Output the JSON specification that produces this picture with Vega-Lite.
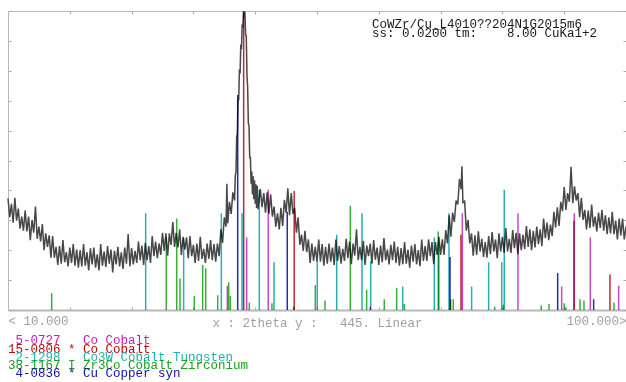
{
  "$schema": "https://vega.github.io/schema/vega-lite/v6.json",
  "width": 618,
  "height": 299,
  "autosize": {"type": "none"},
  "padding": {"left": 8, "top": 11, "right": 0, "bottom": 72},
  "background": "white",
  "config": {"view": {"stroke": null}, "axis": {"grid": false}},
  "datasets": {
    "pattern": [
      {"t":10,"i":166},{"t":10.25,"i":138},{"t":10.5,"i":158},{"t":10.75,"i":130},{"t":11,"i":167},{"t":11.25,"i":133},{"t":11.5,"i":151},{"t":11.75,"i":121},{"t":12,"i":139},{"t":12.25,"i":118},{"t":12.5,"i":148},{"t":12.75,"i":117},{"t":13,"i":139},{"t":13.25,"i":104},{"t":13.5,"i":134},{"t":13.75,"i":115},{"t":14,"i":154},{"t":14.25,"i":106},{"t":14.5,"i":124},{"t":14.75,"i":102},{"t":15,"i":128},{"t":15.25,"i":89},{"t":15.5,"i":114},{"t":15.75,"i":94},{"t":16,"i":111},{"t":16.25,"i":78},{"t":16.5,"i":110},{"t":16.75,"i":78},{"t":17,"i":94},{"t":17.25,"i":67},{"t":17.5,"i":95},{"t":17.75,"i":69},{"t":18,"i":104},{"t":18.25,"i":71},{"t":18.5,"i":86},{"t":18.75,"i":65},{"t":19,"i":93},{"t":19.25,"i":70},{"t":19.5,"i":98},{"t":19.75,"i":66},
      {"t":20,"i":90},{"t":20.25,"i":63},{"t":20.5,"i":89},{"t":20.75,"i":65},{"t":21,"i":98},{"t":21.25,"i":66},{"t":21.5,"i":86},{"t":21.75,"i":59},{"t":22,"i":92},{"t":22.25,"i":68},{"t":22.5,"i":93},{"t":22.75,"i":63},{"t":23,"i":83},{"t":23.25,"i":59},{"t":23.5,"i":98},{"t":23.75,"i":66},{"t":24,"i":87},{"t":24.25,"i":64},{"t":24.5,"i":95},{"t":24.75,"i":69},{"t":25,"i":90},{"t":25.25,"i":56},{"t":25.5,"i":88},{"t":25.75,"i":68},{"t":26,"i":94},{"t":26.25,"i":65},{"t":26.5,"i":86},{"t":26.75,"i":61},{"t":27,"i":93},{"t":27.25,"i":69},{"t":27.5,"i":113},{"t":27.75,"i":65},{"t":28,"i":92},{"t":28.25,"i":68},{"t":28.5,"i":88},{"t":28.75,"i":70},{"t":29,"i":102},{"t":29.25,"i":74},{"t":29.5,"i":96},{"t":29.75,"i":67},
      {"t":30,"i":100},{"t":30.25,"i":74},{"t":30.5,"i":95},{"t":30.75,"i":70},{"t":31,"i":110},{"t":31.25,"i":80},{"t":31.5,"i":102},{"t":31.75,"i":77},{"t":32,"i":99},{"t":32.25,"i":82},{"t":32.5,"i":115},{"t":32.75,"i":88},{"t":33,"i":114},{"t":33.25,"i":81},{"t":33.5,"i":114},{"t":33.75,"i":97},{"t":34,"i":131},{"t":34.25,"i":94},{"t":34.5,"i":115},{"t":34.75,"i":93},{"t":35,"i":120},{"t":35.25,"i":82},{"t":35.5,"i":109},{"t":35.75,"i":90},{"t":36,"i":108},{"t":36.25,"i":77},{"t":36.5,"i":110},{"t":36.75,"i":80},{"t":37,"i":97},{"t":37.25,"i":70},{"t":37.5,"i":99},{"t":37.75,"i":73},{"t":38,"i":109},{"t":38.25,"i":76},{"t":38.5,"i":91},{"t":38.75,"i":70},{"t":39,"i":99},{"t":39.25,"i":76},{"t":39.5,"i":104},{"t":39.75,"i":74},
      {"t":40,"i":98},{"t":40.25,"i":72},{"t":40.5,"i":99},{"t":40.75,"i":80},{"t":41,"i":120},{"t":41.25,"i":100},{"t":41.5,"i":138},{"t":41.75,"i":124},{"t":41.875,"i":188},{"t":42,"i":129},{"t":42.25,"i":161},{"t":42.5,"i":143},{"t":42.75,"i":175},{"t":43,"i":163},
      {"t":43.1,"i":200},{"t":43.2,"i":205},{"t":43.3,"i":258},{"t":43.4,"i":262},{"t":43.5,"i":312},{"t":43.6,"i":313},{"t":43.7,"i":358},{"t":43.8,"i":352},{"t":43.9,"i":395},{"t":44,"i":388},{"t":44.1,"i":425},{"t":44.2,"i":420},{"t":44.3,"i":444},{"t":44.4,"i":434},{"t":44.5,"i":444},{"t":44.6,"i":410},{"t":44.7,"i":408},{"t":44.8,"i":350},{"t":44.9,"i":332},{"t":45,"i":278},{"t":45.1,"i":274},{"t":45.2,"i":226},{"t":45.3,"i":228},{"t":45.4,"i":188},{"t":45.5,"i":206},{"t":45.6,"i":172},{"t":45.7,"i":199},{"t":45.8,"i":165},{"t":45.9,"i":193},{"t":46,"i":158},{"t":46.1,"i":187},{"t":46.2,"i":152},{"t":46.3,"i":185},{"t":46.4,"i":150},
      {"t":46.75,"i":180},{"t":47,"i":153},{"t":47.25,"i":174},{"t":47.5,"i":145},{"t":47.75,"i":175},{"t":48,"i":143},{"t":48.25,"i":172},{"t":48.5,"i":139},{"t":48.75,"i":154},{"t":49,"i":124},{"t":49.25,"i":144},{"t":49.5,"i":120},{"t":49.75,"i":152},{"t":50,"i":125},{"t":50.25,"i":164},{"t":50.5,"i":145},{"t":50.75,"i":181},{"t":51,"i":141},{"t":51.25,"i":174},{"t":51.5,"i":143},{"t":51.75,"i":152},{"t":52,"i":115},{"t":52.25,"i":138},{"t":52.5,"i":97},{"t":52.75,"i":112},{"t":53,"i":88},{"t":53.25,"i":118},{"t":53.5,"i":86},{"t":53.75,"i":105},{"t":54,"i":70},{"t":54.25,"i":99},{"t":54.5,"i":73},{"t":54.75,"i":94},{"t":55,"i":72},{"t":55.25,"i":105},{"t":55.5,"i":72},{"t":55.75,"i":98},{"t":56,"i":66},{"t":56.25,"i":94},{"t":56.5,"i":69},
      {"t":56.75,"i":99},{"t":57,"i":72},{"t":57.25,"i":93},{"t":57.5,"i":67},{"t":57.75,"i":105},{"t":58,"i":73},{"t":58.25,"i":95},{"t":58.5,"i":69},{"t":58.75,"i":91},{"t":59,"i":73},{"t":59.25,"i":106},{"t":59.5,"i":77},{"t":59.75,"i":102},{"t":60,"i":68},{"t":60.25,"i":99},{"t":60.5,"i":81},{"t":60.75,"i":120},{"t":61,"i":74},{"t":61.25,"i":94},{"t":61.5,"i":74},{"t":61.75,"i":103},{"t":62,"i":67},{"t":62.25,"i":96},{"t":62.5,"i":80},{"t":62.75,"i":99},{"t":63,"i":69},{"t":63.25,"i":104},{"t":63.5,"i":75},{"t":63.75,"i":93},{"t":64,"i":67},{"t":64.25,"i":96},{"t":64.5,"i":71},{"t":64.75,"i":107},{"t":65,"i":74},{"t":65.25,"i":90},{"t":65.5,"i":68},{"t":65.75,"i":97},{"t":66,"i":74},{"t":66.25,"i":102},{"t":66.5,"i":70},
      {"t":66.75,"i":94},{"t":67,"i":66},{"t":67.25,"i":92},{"t":67.5,"i":68},{"t":67.75,"i":101},{"t":68,"i":69},{"t":68.25,"i":90},{"t":68.5,"i":63},{"t":68.75,"i":96},{"t":69,"i":72},{"t":69.25,"i":98},{"t":69.5,"i":68},{"t":69.75,"i":89},{"t":70,"i":65},{"t":70.25,"i":105},{"t":70.5,"i":73},{"t":70.75,"i":95},{"t":71,"i":73},{"t":71.25,"i":105},{"t":71.5,"i":80},{"t":71.75,"i":101},{"t":72,"i":68},{"t":72.25,"i":101},{"t":72.5,"i":82},{"t":72.75,"i":109},{"t":73,"i":82},{"t":73.25,"i":105},{"t":73.5,"i":82},{"t":73.75,"i":119},{"t":74,"i":99},{"t":74.25,"i":141},{"t":74.5,"i":109},{"t":74.75,"i":145},{"t":75,"i":131},{"t":75.25,"i":163},{"t":75.5,"i":157},{"t":75.75,"i":195},{"t":76,"i":180},{"t":76.1,"i":214},{"t":76.25,"i":160},{"t":76.5,"i":162},{"t":76.75,"i":118},
      {"t":77,"i":134},{"t":77.25,"i":99},{"t":77.5,"i":114},{"t":77.75,"i":81},{"t":78,"i":111},{"t":78.25,"i":82},{"t":78.5,"i":117},{"t":78.75,"i":87},{"t":79,"i":106},{"t":79.25,"i":79},{"t":79.5,"i":101},{"t":79.75,"i":78},{"t":80,"i":110},{"t":80.25,"i":83},{"t":80.5,"i":116},{"t":80.75,"i":87},{"t":81,"i":105},{"t":81.25,"i":77},{"t":81.5,"i":114},{"t":81.75,"i":87},{"t":82,"i":109},{"t":82.25,"i":85},{"t":82.5,"i":122},{"t":82.75,"i":87},{"t":83,"i":106},{"t":83.25,"i":85},{"t":83.5,"i":119},{"t":83.75,"i":92},{"t":84,"i":115},{"t":84.25,"i":83},{"t":84.5,"i":114},{"t":84.75,"i":89},{"t":85,"i":112},{"t":85.25,"i":91},{"t":85.5,"i":125},{"t":85.75,"i":94},{"t":86,"i":120},{"t":86.25,"i":89},{"t":86.5,"i":118},{"t":86.75,"i":93},
      {"t":87,"i":124},{"t":87.25,"i":98},{"t":87.5,"i":120},{"t":87.75,"i":95},{"t":88,"i":136},{"t":88.25,"i":107},{"t":88.5,"i":130},{"t":88.75,"i":104},{"t":89,"i":127},{"t":89.25,"i":110},{"t":89.5,"i":146},{"t":89.75,"i":123},{"t":90,"i":153},{"t":90.25,"i":125},{"t":90.5,"i":161},{"t":90.75,"i":147},{"t":91,"i":183},{"t":91.25,"i":149},{"t":91.5,"i":174},{"t":91.75,"i":161},{"t":92,"i":213},{"t":92.25,"i":159},{"t":92.5,"i":184},{"t":92.75,"i":163},{"t":93,"i":174},{"t":93.25,"i":138},{"t":93.5,"i":167},{"t":93.75,"i":134},{"t":94,"i":149},{"t":94.25,"i":120},{"t":94.5,"i":148},{"t":94.75,"i":122},{"t":95,"i":157},{"t":95.25,"i":124},{"t":95.5,"i":139},{"t":95.75,"i":117},{"t":96,"i":145},{"t":96.25,"i":122},{"t":96.5,"i":149},{"t":96.75,"i":118},
      {"t":97,"i":141},{"t":97.25,"i":113},{"t":97.5,"i":138},{"t":97.75,"i":114},{"t":98,"i":146},{"t":98.25,"i":113},{"t":98.5,"i":133},{"t":98.75,"i":105},{"t":99,"i":136},{"t":99.25,"i":111},{"t":99.5,"i":136},{"t":99.75,"i":105},{"t":100,"i":124}
    ],
    "sticks": [
      {"t":16.36,"i":25,"card":"38-1167"},{"t":30.05,"i":144,"card":"2-1298"},{"t":33.05,"i":108,"card":"38-1167"},{"t":34.57,"i":136,"card":"38-1167"},{"t":35.05,"i":47,"card":"38-1167"},{"t":35.58,"i":107,"card":"2-1298"},{"t":37.13,"i":21,"card":"38-1167"},{"t":38.35,"i":67,"card":"38-1167"},{"t":38.79,"i":62,"card":"38-1167"},{"t":40.54,"i":22,"card":"38-1167"},{"t":41.07,"i":144,"card":"2-1298"},{"t":41.94,"i":36,"card":"5-0727"},{"t":42.14,"i":41,"card":"38-1167"},{"t":42.38,"i":21,"card":"38-1167"},{"t":43.45,"i":320,"card":"4-0836"},{"t":44.08,"i":144,"card":"2-1298"},{"t":44.32,"i":445,"card":"15-0806"},{"t":44.76,"i":108,"card":"5-0727"},{"t":45.14,"i":11,"card":"38-1167"},{"t":46.6,"i":179,"card":"2-1298"},{"t":47.9,"i":179,"card":"5-0727"},{"t":48.44,"i":10,"card":"38-1167"},{"t":48.74,"i":71,"card":"2-1298"},{"t":50.67,"i":146,"card":"4-0836"},{"t":51.6,"i":5,"card":"38-1167"},{"t":51.68,"i":177,"card":"15-0806"},
      {"t":54.75,"i":37,"card":"38-1167"},{"t":55.04,"i":72,"card":"2-1298"},{"t":56.16,"i":14,"card":"38-1167"},{"t":57.87,"i":112,"card":"2-1298"},{"t":59.85,"i":155,"card":"38-1167"},{"t":61.55,"i":144,"card":"2-1298"},{"t":62.23,"i":30,"card":"38-1167"},{"t":62.82,"i":73,"card":"2-1298"},{"t":62.75,"i":5,"card":"5-0727"},{"t":64.8,"i":16,"card":"38-1167"},{"t":66.6,"i":33,"card":"38-1167"},{"t":67.48,"i":35,"card":"2-1298"},{"t":67.72,"i":9,"card":"38-1167"},{"t":72.08,"i":108,"card":"2-1298"},{"t":72.66,"i":117,"card":"38-1167"},{"t":72.75,"i":100,"card":"2-1298"},{"t":74.22,"i":144,"card":"2-1298"},{"t":74.37,"i":79,"card":"4-0836"},{"t":74.47,"i":16,"card":"38-1167"},{"t":74.85,"i":16,"card":"38-1167"},{"t":75.97,"i":112,"card":"15-0806"},{"t":76.16,"i":144,"card":"5-0727"},{"t":77.52,"i":35,"card":"2-1298"},
      {"t":80.0,"i":71,"card":"2-1298"},{"t":80.87,"i":5,"card":"38-1167"},{"t":81.9,"i":71,"card":"2-1298"},{"t":82.13,"i":8,"card":"38-1167"},{"t":82.27,"i":179,"card":"2-1298"},{"t":84.27,"i":144,"card":"5-0727"},{"t":87.66,"i":7,"card":"38-1167"},{"t":88.78,"i":9,"card":"38-1167"},{"t":90.05,"i":55,"card":"4-0836"},{"t":90.63,"i":35,"card":"5-0727"},{"t":91.0,"i":10,"card":"38-1167"},{"t":91.25,"i":4,"card":"38-1167"},{"t":92.42,"i":133,"card":"15-0806"},{"t":92.47,"i":144,"card":"5-0727"},{"t":93.3,"i":16,"card":"38-1167"},{"t":93.88,"i":14,"card":"38-1167"},{"t":94.8,"i":108,"card":"5-0727"},{"t":95.29,"i":16,"card":"4-0836"},{"t":97.66,"i":53,"card":"15-0806"},{"t":98.25,"i":11,"card":"38-1167"},{"t":98.93,"i":36,"card":"5-0727"}
    ],
    "cards": [
      {"card":"5-0727","label":"5-0727\u00a0\u00a0\u00a0Co Cobalt"},
      {"card":"15-0806","label":"15-0806 * Co Cobalt"},
      {"card":"2-1298","label":"2-1298\u00a0\u00a0\u00a0Co3W Cobalt Tungsten"},
      {"card":"38-1167","label":"38-1167 I Zr3Co Cobalt Zirconium"},
      {"card":"4-0836","label":"4-0836 * Cu Copper syn"}
    ],
    "header": [
      {"sample":"CoWZr/Cu_L4010??204N1G2015m6","scan":"ss: 0.0200 tm:\u00a0\u00a0\u00a0\u00a08.00 CuKa1+2"}
    ]
  },
  "layer": [
    {
      "data": {"name": "pattern"},
      "mark": {"type": "line", "color": "#484848", "strokeWidth": 1.5},
      "encoding": {
        "x": {"field": "t", "type": "quantitative", "scale": {"domain": [10, 100], "nice": false, "zero": false},
          "axis": {"orient": "bottom", "values": [10,19,28,37,46,55,64,73,82,91,100], "grid": false, "tickSize": -3, "tickColor": "#a8a8a8", "domainColor": "#b8b8b8", "domainWidth": 2,
            "labelExpr": "datum.value == 10 ? '< 10.000' : datum.value == 100 ? '100.000>' : ''", "labelFlush": true, "labelOverlap": false,
            "labelFont": "Liberation Mono", "labelFontSize": 12.5, "labelColor": "#a0a0a0", "labelBaseline": "alphabetic", "labelPadding": 17,
            "title": "x : 2theta y :\u00a0\u00a0\u00a0445. Linear", "titleFont": "Liberation Mono", "titleFontSize": 12.5, "titleFontWeight": "normal", "titleColor": "#a0a0a0", "titleBaseline": "alphabetic", "titleY": 16, "titlePadding": 0}},
        "y": {"field": "i", "type": "quantitative", "scale": {"domain": [0, 445], "nice": false, "zero": false},
          "axis": {"orient": "left", "values": [0,44.5,89,133.5,178,222.5,267,311.5,356,400.5,445], "grid": false, "labels": false, "tickSize": -3, "tickColor": "#a8a8a8", "domainColor": "#b8b8b8", "title": null}}
      }
    },
    {
      "data": {"name": "sticks"},
      "mark": {"type": "rule", "strokeWidth": 1.5, "blend": "multiply"},
      "encoding": {
        "x": {"field": "t", "type": "quantitative", "scale": {"domain": [10, 100], "nice": false, "zero": false},
          "axis": {"orient": "top", "values": [10,19,28,37,46,55,64,73,82,91,100], "grid": false, "labels": false, "tickSize": -3, "tickColor": "#a8a8a8", "domainColor": "#b8b8b8", "title": null}},
        "y": {"field": "i", "type": "quantitative", "scale": {"domain": [0, 445], "nice": false, "zero": false},
          "axis": {"orient": "right", "values": [0,44.5,89,133.5,178,222.5,267,311.5,356,400.5,445], "grid": false, "labels": false, "tickSize": -3, "tickColor": "#a8a8a8", "domainColor": "#b8b8b8", "title": null}},
        "y2": {"datum": 0},
        "color": {"field": "card", "type": "nominal", "scale": {"domain": ["5-0727","15-0806","2-1298","38-1167","4-0836"], "range": ["#c848c8","#c82828","#28b0b0","#38b038","#2828b8"]}, "legend": null}
      }
    },
    {
      "data": {"name": "header"},
      "mark": {"type": "text", "align": "left", "baseline": "alphabetic", "font": "Liberation Mono", "fontSize": 12.5, "color": "#1a1a1a"},
      "encoding": {
        "x": {"datum": 63.0, "type": "quantitative", "scale": {"domain": [10, 100], "nice": false, "zero": false}, "axis": null},
        "y": {"datum": 419, "type": "quantitative", "scale": {"domain": [0, 445], "nice": false, "zero": false}, "axis": null},
        "text": {"field": "sample"}
      }
    },
    {
      "data": {"name": "header"},
      "mark": {"type": "text", "align": "left", "baseline": "alphabetic", "font": "Liberation Mono", "fontSize": 12.5, "color": "#1a1a1a"},
      "encoding": {
        "x": {"datum": 63.0, "type": "quantitative", "scale": {"domain": [10, 100], "nice": false, "zero": false}, "axis": null},
        "y": {"datum": 407, "type": "quantitative", "scale": {"domain": [0, 445], "nice": false, "zero": false}, "axis": null},
        "text": {"field": "scan"}
      }
    },
    {
      "data": {"name": "cards"},
      "transform": [{"filter": "datum.card == '5-0727'"}],
      "mark": {"type": "text", "align": "left", "baseline": "alphabetic", "font": "Liberation Mono", "fontSize": 12.5, "color": "#c020c0"},
      "encoding": {
        "x": {"datum": 11.09, "type": "quantitative", "scale": {"domain": [10, 100], "nice": false, "zero": false}, "axis": null},
        "y": {"datum": -51.3, "type": "quantitative", "scale": {"domain": [0, 445], "nice": false, "zero": false}, "axis": null},
        "text": {"field": "label"}
      }
    },
    {
      "data": {"name": "cards"},
      "transform": [{"filter": "datum.card == '15-0806'"}],
      "mark": {"type": "text", "align": "left", "baseline": "alphabetic", "font": "Liberation Mono", "fontSize": 12.5, "color": "#c00808"},
      "encoding": {
        "x": {"datum": 10, "type": "quantitative", "scale": {"domain": [10, 100], "nice": false, "zero": false}, "axis": null},
        "y": {"datum": -63.4, "type": "quantitative", "scale": {"domain": [0, 445], "nice": false, "zero": false}, "axis": null},
        "text": {"field": "label"}
      }
    },
    {
      "data": {"name": "cards"},
      "transform": [{"filter": "datum.card == '2-1298'"}],
      "mark": {"type": "text", "align": "left", "baseline": "alphabetic", "font": "Liberation Mono", "fontSize": 12.5, "color": "#20b0b0"},
      "encoding": {
        "x": {"datum": 11.09, "type": "quantitative", "scale": {"domain": [10, 100], "nice": false, "zero": false}, "axis": null},
        "y": {"datum": -75.5, "type": "quantitative", "scale": {"domain": [0, 445], "nice": false, "zero": false}, "axis": null},
        "text": {"field": "label"}
      }
    },
    {
      "data": {"name": "cards"},
      "transform": [{"filter": "datum.card == '38-1167'"}],
      "mark": {"type": "text", "align": "left", "baseline": "alphabetic", "font": "Liberation Mono", "fontSize": 12.5, "color": "#18a018"},
      "encoding": {
        "x": {"datum": 10, "type": "quantitative", "scale": {"domain": [10, 100], "nice": false, "zero": false}, "axis": null},
        "y": {"datum": -87.5, "type": "quantitative", "scale": {"domain": [0, 445], "nice": false, "zero": false}, "axis": null},
        "text": {"field": "label"}
      }
    },
    {
      "data": {"name": "cards"},
      "transform": [{"filter": "datum.card == '4-0836'"}],
      "mark": {"type": "text", "align": "left", "baseline": "alphabetic", "font": "Liberation Mono", "fontSize": 12.5, "color": "#1010a8"},
      "encoding": {
        "x": {"datum": 11.09, "type": "quantitative", "scale": {"domain": [10, 100], "nice": false, "zero": false}, "axis": null},
        "y": {"datum": -99.6, "type": "quantitative", "scale": {"domain": [0, 445], "nice": false, "zero": false}, "axis": null},
        "text": {"field": "label"}
      }
    }
  ],
  "resolve": {"axis": {"x": "independent", "y": "independent"}}
}
